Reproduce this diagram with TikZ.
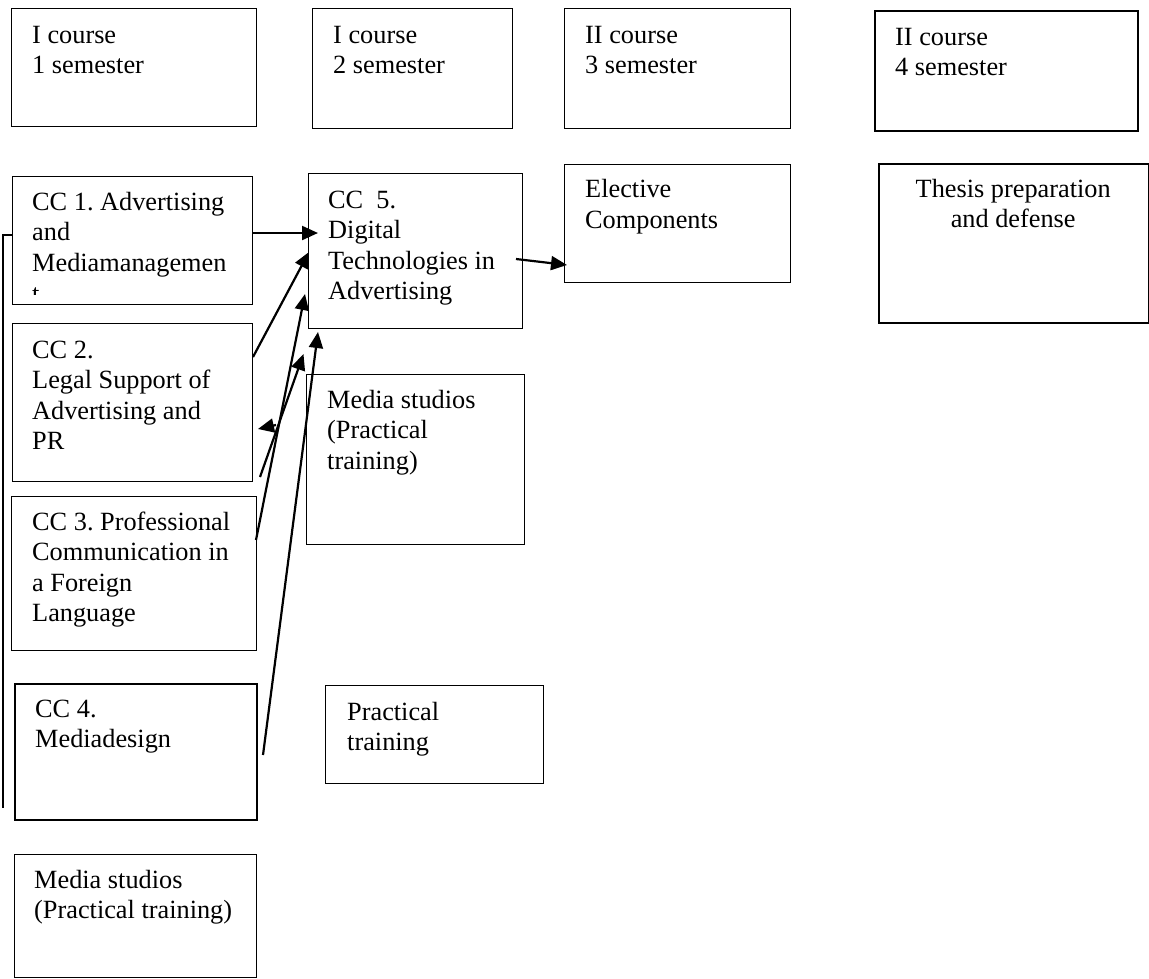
\documentclass[tikz,border=0pt]{standalone}
\usepackage{fontspec}
\setmainfont{Liberation Serif}
\usetikzlibrary{arrows.meta}
\frenchspacing
\begin{document}
\begin{tikzpicture}[x=1pt,y=-1pt,
  box/.style={draw=black, line width=1.2pt, rectangle, inner sep=0pt, anchor=north west},
  boxthick/.style={box, line width=1.8pt},
  txt/.style={inner sep=0pt, anchor=base west, font=\frenchspacing\fontsize{26.3}{30.5}\selectfont},
  arr/.style={line width=2.2pt, -{Triangle[length=16pt,width=14pt]}},
  plain/.style={line width=1.2pt},
  ]
\useasboundingbox (0,0) rectangle (1149,978);
% top row
\node[box, minimum width=245pt, minimum height=118pt] (sem1) at (11,8) {};
\node[box, minimum width=200pt, minimum height=120pt] (sem2) at (312,8) {};
\node[box, minimum width=226pt, minimum height=120pt] (sem3) at (564,8) {};
\node[boxthick, minimum width=263pt, minimum height=120pt] (sem4) at (874,10) {};
\node[txt] (tsem1) at (32,43) {\parbox[t]{220pt}{I course\\1 semester}};
\node[txt] (tsem2) at (333,43) {\parbox[t]{180pt}{I course\\2 semester}};
\node[txt] (tsem3) at (585,43) {\parbox[t]{200pt}{II course\\3 semester}};
\node[txt] (tsem4) at (895,45) {\parbox[t]{230pt}{II course\\4 semester}};
% second row
\node[box, minimum width=240pt, minimum height=128pt] (cc1) at (12,176) {};
\node[box, minimum width=214pt, minimum height=155pt] (cc5) at (308,173) {};
\node[box, minimum width=226pt, minimum height=118pt] (elec) at (564,164) {};
\node[boxthick, minimum width=270pt, minimum height=159pt] (thesis) at (878,163) {};
\node[txt] (tcc1) at (32,210) {\parbox[t]{220pt}{CC 1. Advertising\\and\\Mediamanagemen}};
\begin{scope}
  \clip (12,176) rectangle (252,294);
  \node[txt] (tcc1t) at (32,302.7) {t};
\end{scope}
\node[txt] (tcc5) at (328,208) {\parbox[t]{200pt}{CC\ \ 5.\\Digital\\Technologies in\\Advertising}};
\node[txt] (telec) at (585,197.5) {\parbox[t]{200pt}{Elective\\Components}};
\node[txt] (tthesis) at (878,197) {\parbox[t]{270pt}{\centering Thesis preparation\\and defense}};
% left column and middle
\node[box, minimum width=240pt, minimum height=158pt] (cc2) at (12,323) {};
\node[txt] (tcc2) at (32,358) {\parbox[t]{220pt}{CC 2.\\Legal Support of\\Advertising and\\PR}};
\node[box, minimum width=218pt, minimum height=170pt] (ms1) at (306,374) {};
\node[txt] (tms1) at (327,408) {\parbox[t]{200pt}{Media studios\\(Practical\\training)}};
\node[box, minimum width=245pt, minimum height=154pt] (cc3) at (11,496) {};
\node[txt] (tcc3) at (32,530) {\parbox[t]{230pt}{CC 3. Professional\\Communication in\\a Foreign\\Language}};
\node[boxthick, minimum width=242pt, minimum height=136pt] (cc4) at (14,683) {};
\node[txt] (tcc4) at (35,717) {\parbox[t]{220pt}{CC 4.\\Mediadesign}};
\node[box, minimum width=218pt, minimum height=98pt] (pt) at (325,685) {};
\node[txt] (tpt) at (347,720) {\parbox[t]{200pt}{Practical\\training}};
\node[box, minimum width=242pt, minimum height=123pt] (ms2) at (14,854) {};
\node[txt] (tms2) at (34,888) {\parbox[t]{230pt}{Media studios\\(Practical training)}};
% connector endpoints
\coordinate (c1s) at (252,233);   \coordinate (c1e) at (318,233);
\coordinate (c2s) at (253,357);   \coordinate (c2e) at (309,252);
\coordinate (c3s) at (256,540);   \coordinate (c3e) at (305,294);
\coordinate (c4s) at (260,477);   \coordinate (c4e) at (303.5,354);
\coordinate (c5s) at (263,755);   \coordinate (c5e) at (318,332);
\coordinate (c6s) at (276,425);   \coordinate (c6e) at (258,429);
\coordinate (c7s) at (516,259);   \coordinate (c7e) at (567,265);
\coordinate (lbend) at (3,235);   \coordinate (lend) at (3,808);
\coordinate (lstart) at (12,235);
% connectors
\draw[arr] (c1s) -- (c1e);
\draw[arr] (c2s) -- (c2e);
\draw[arr] (c3s) -- (c3e);
\draw[arr] (c4s) -- (c4e);
\draw[arr] (c5s) -- (c5e);
\draw[arr] (c6s) -- (c6e);
\draw[arr] (c7s) -- (c7e);
\draw[plain] (lstart) -- (lbend) -- (lend);
\end{tikzpicture}
\end{document}
